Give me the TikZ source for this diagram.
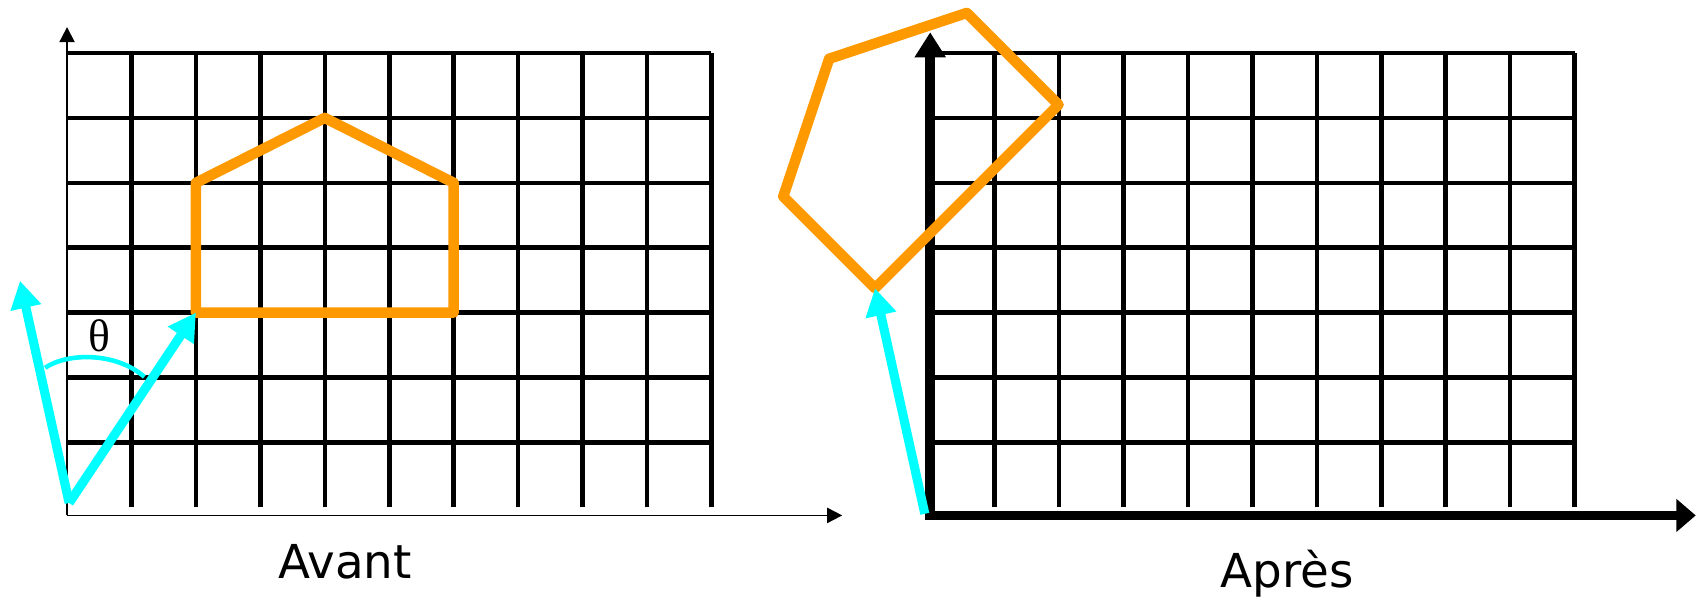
\documentclass[tikz,border=0pt]{standalone}
\usepackage{fontspec}
\setmainfont{DejaVu Sans}
\newfontfamily\thetafont{Liberation Serif}
\usepackage{xcolor}
\usetikzlibrary{arrows.meta}
\definecolor{houseorange}{HTML}{FF9900}
\definecolor{vectorcyan}{HTML}{00FFFF}

\begin{document}
\begin{tikzpicture}[
        gridline/.style={line width=2pt},
        thinaxis/.style={line width=0.8pt,-{Triangle[length=6.6pt,width=6.6pt]}},
        thickaxis/.style={line width=4.2pt,-{Triangle[length=11pt,width=13pt]}},
        house/.style={draw=houseorange,line width=4.6pt,line join=round},
        vector/.style={draw=vectorcyan,line width=4pt,-{Triangle[length=12pt,width=13pt]}},
        caption/.style={font=\fontsize{20.5}{24}\selectfont,anchor=base}
    ]
        \useasboundingbox (0,0) rectangle (26.133,9.217);
        % Before: grid
        \begin{scope}[shift={(1.033,1.4)},xscale=0.993]
            \foreach \y in {1,...,7} \draw[gridline] (0,\y) -- (10,\y);
            \foreach \x in {1,...,10} \draw[gridline] (\x,0) -- (\x,7);
            % Axes
            \coordinate (corner1) at (0,-0.125);
            \coordinate (xend1) at (12.03,-0.125);
            \coordinate (yend1) at (0,7.4);
            \draw[thinaxis] (corner1) -- (xend1);
            \draw[thinaxis] (corner1) -- (yend1);
            % House
            \coordinate (h1) at (2,3);
            \coordinate (h2) at (2,5);
            \coordinate (h3) at (4,6);
            \coordinate (h4) at (6,5);
            \coordinate (h5) at (6,3);
            \draw[house] (h1) -- (h2) -- (h3) -- (h4) -- (h5) -- cycle;
            % Vectors
            \coordinate (o1) at (0.033,0.067);
            \coordinate (v1) at (-0.73,3.49);
            \draw[vector] (o1) -- (h1);
            \draw[vector] (o1) -- (v1);
            % Angle
            \coordinate (arcstart) at (-0.34,2.15);
            \coordinate (arcend) at (1.2,2.01);
            \draw[vectorcyan,line width=2pt] (arcstart) .. controls (0,2.38) and (0.75,2.4) .. (arcend);
            \node (theta) at (0.51,2.64) {\fontsize{20}{22}\selectfont\thetafont θ};
        \end{scope}
        \node[caption] (avant) at (5.317,0.31) {Avant};
        % After: grid
        \begin{scope}[shift={(14.333,1.4)},xscale=0.993]
            \foreach \y in {1,...,7} \draw[gridline] (0,\y) -- (10,\y);
            \foreach \x in {1,...,10} \draw[gridline] (\x,0) -- (\x,7);
            % Axes
            \coordinate (corner2) at (0,-0.125);
            \coordinate (ybase2) at (0,-0.2);
            \coordinate (xend2) at (11.88,-0.125);
            \coordinate (yend2) at (0,7.32);
            \draw[thickaxis,-{Triangle[length=8.5pt,width=14pt]}] (corner2) -- (xend2);
            \draw[thickaxis] (ybase2) -- (yend2);
        \end{scope}
        % After: rotated house
        \coordinate (o2) at (14.25,1.3);
        \begin{scope}[shift={(14.19,1.24)},rotate=45]
            \coordinate (g1) at (2,3);
            \coordinate (g2) at (2,5);
            \coordinate (g3) at (4,6);
            \coordinate (g4) at (6,5);
            \coordinate (g5) at (6,3);
            \draw[house] (g1) -- (g2) -- (g3) -- (g4) -- (g5) -- cycle;
        \end{scope}
        \draw[vector] (o2) -- (g1);
        \node[caption] (apres) at (19.833,0.157) {Après};
    \end{tikzpicture}
\end{document}
